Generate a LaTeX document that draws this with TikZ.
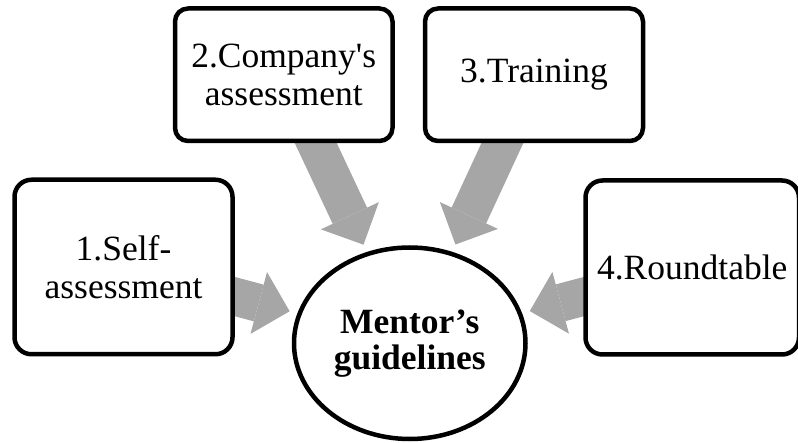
\documentclass[tikz,border=0pt]{standalone}
\usepackage{fontspec}
\setmainfont{Liberation Serif}[Ligatures=TeXOff]
\usetikzlibrary{arrows.meta,shapes.geometric,backgrounds}
\definecolor{arrowgray}{RGB}{166,166,166}
\begin{document}
\begin{tikzpicture}[x=1pt,y=-1pt,
  stepbox/.style={draw=black,line width=4.5pt,fill=white,rounded corners=#1,
    inner sep=0pt,align=center,font=\fontsize{35.5}{38}\selectfont},
  goal/.style={ellipse,draw=black,line width=4.5pt,fill=white,inner sep=0pt,
    minimum width=231.5pt,minimum height=191.5pt,align=center,
    font=\fontsize{35.5}{36}\selectfont\bfseries},
  flow/.style={draw=arrowgray,line width=38pt,
    -{Triangle[length=32pt,width=64pt,line width=0pt]},
    shorten <=-14pt,shorten >=8pt}
]
\useasboundingbox (0,0) rectangle (798,443);

% steps feeding the mentor's guidelines
\node[stepbox=17pt,minimum width=218pt,minimum height=174.5pt] (s1) at (123.5,267)
  {1.Self-\\assessment};
\node[stepbox=13pt,minimum width=217.5pt,minimum height=132.5pt] (s2) at (283.75,74.75)
  {2.Company's\\assessment};
\node[stepbox=13pt,minimum width=218pt,minimum height=132.5pt] (s3) at (534,74.75)
  {3.Training};
\node[stepbox=17pt,minimum width=213.5pt,minimum height=174pt] (s4) at (692.25,267.5)
  {4.Roundtable};

% central result
\node[goal] (m) at (409.75,343.25) {Mentor’s\\guidelines};

% block arrows, kept under the boxes
\begin{scope}[on background layer]
  \draw[flow] (s1) -- (m);
  \draw[flow] (s2) -- (m);
  \draw[flow] (s3) -- (m);
  \draw[flow] (s4) -- (m);
\end{scope}
\end{tikzpicture}
\end{document}
